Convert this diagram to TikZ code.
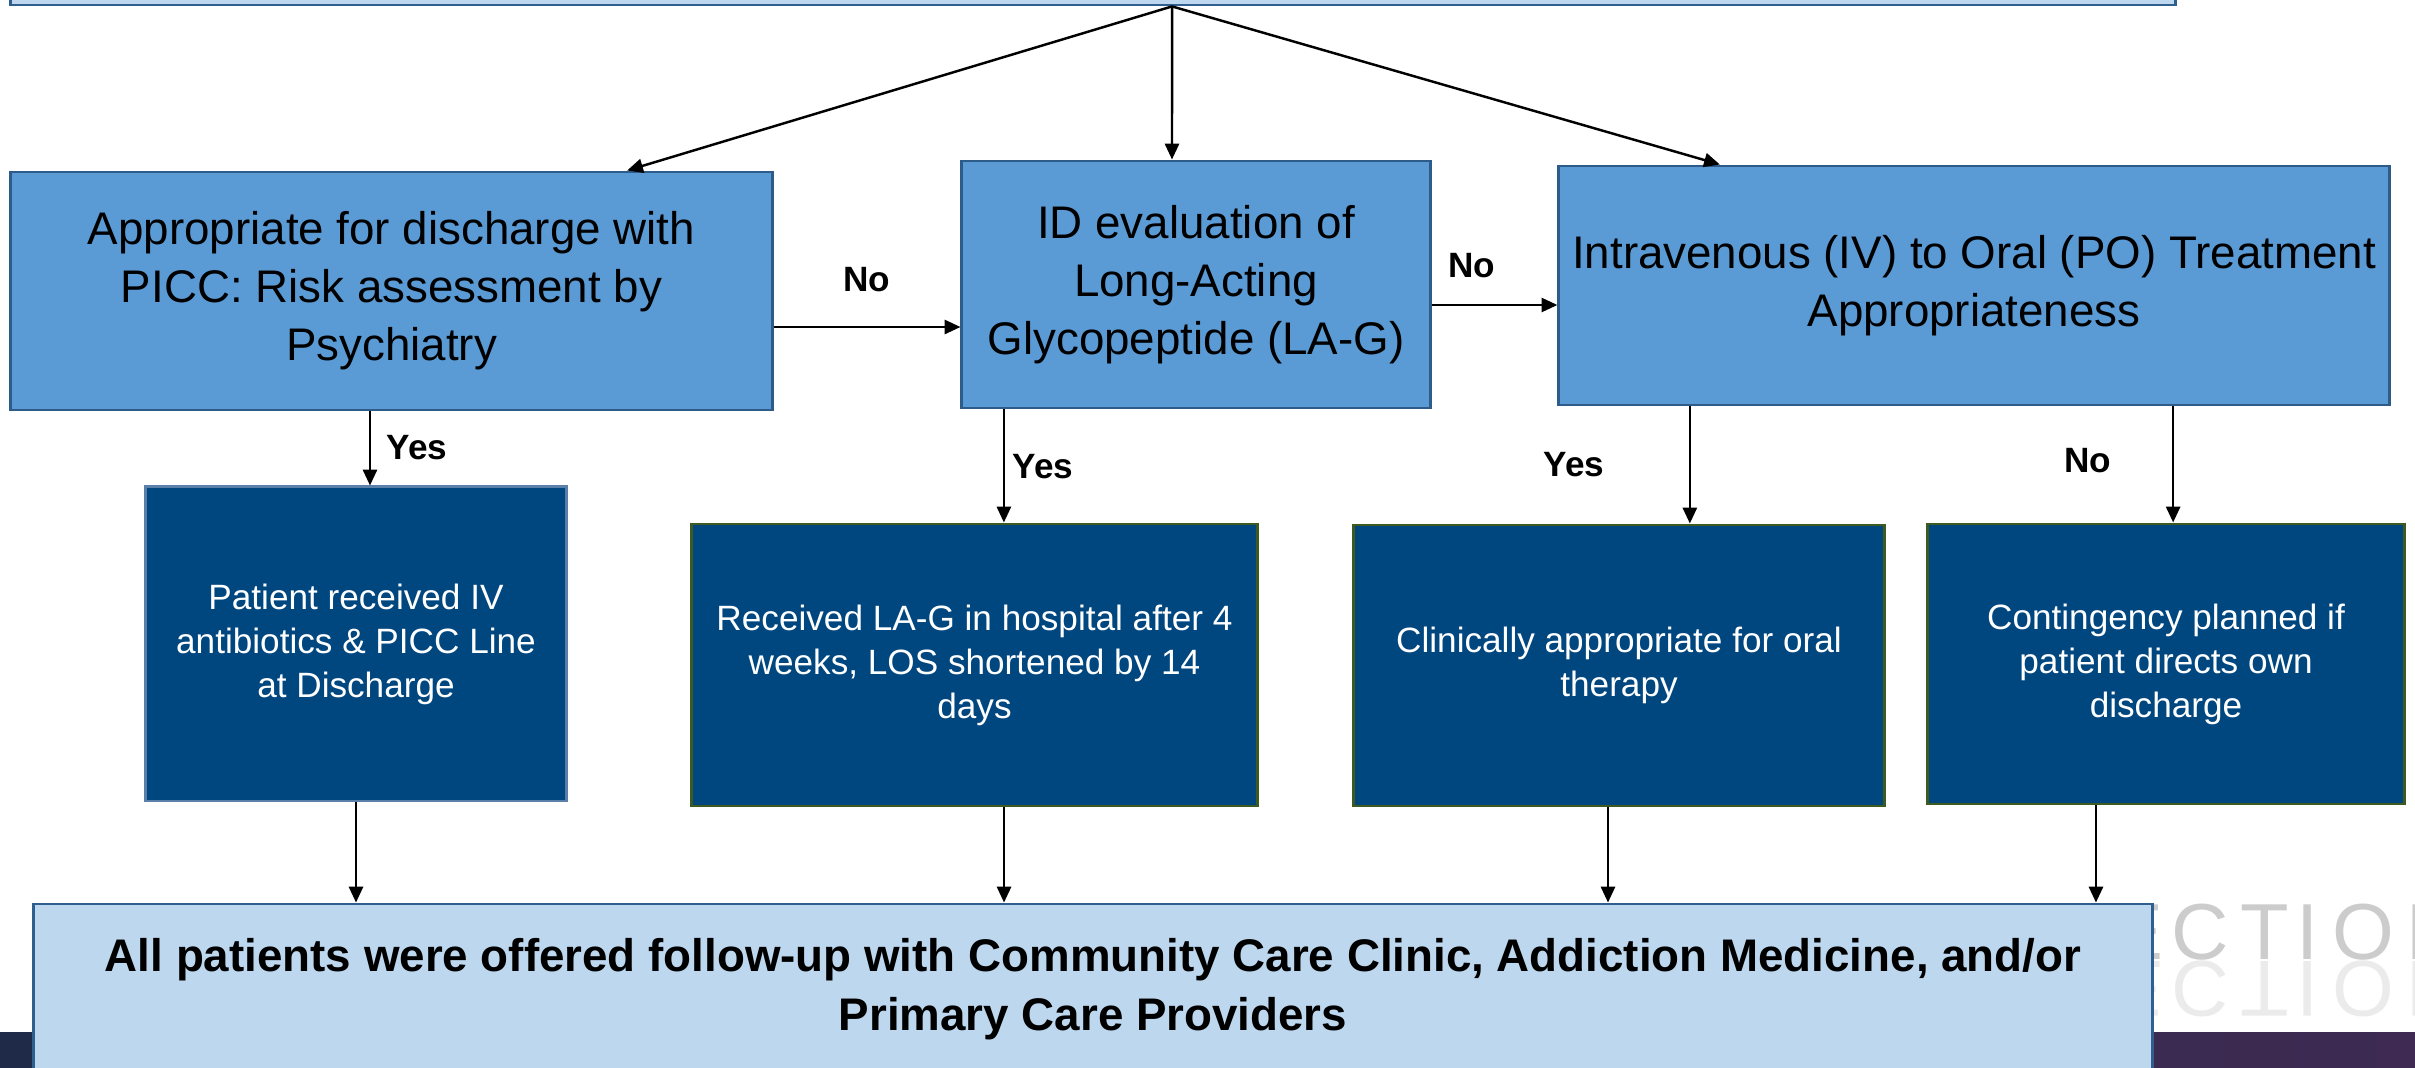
\documentclass[tikz,border=0pt]{standalone}
\usepackage{fontspec}
\setmainfont{Liberation Sans}
\usepackage{tikz}
\usetikzlibrary{arrows.meta}
\definecolor{midblue}{HTML}{5B9BD5}
\definecolor{midline}{HTML}{2E5C8A}
\definecolor{navybox}{HTML}{00467F}
\definecolor{oliveline}{HTML}{3D5A22}
\definecolor{steelline}{HTML}{5A7FA8}
\definecolor{paleblue}{HTML}{BDD7EE}
\definecolor{paleline}{HTML}{2E5F8F}
\definecolor{bandnavy}{HTML}{1F2A48}
\definecolor{bandred}{HTML}{6B2A48}
\definecolor{bandplum}{HTML}{3E2A52}

\begin{document}
\begin{tikzpicture}[x=0.01cm,y=-0.01cm,
  midbox/.style={draw=midline, fill=midblue, line width=0.8pt, align=center, inner sep=2pt, font=\fontsize{13}{16.5}\selectfont, execute at begin node={\rule{0pt}{12.3pt}}},
  darkbox/.style={draw=oliveline, fill=navybox, line width=0.8pt, text=white, align=center, inner sep=2pt, font=\fontsize{10}{12.5}\selectfont},
  palebox/.style={draw=paleline, fill=paleblue, line width=0.8pt, align=center, inner sep=2pt, font=\bfseries\fontsize{13}{16.6}\selectfont},
  lbl/.style={font=\bfseries\fontsize{10}{12}\selectfont},
  ghost/.style={anchor=base, inner sep=0pt, font=\fontsize{22.6}{24}\selectfont},
  arr/.style={-{Triangle[length=4.5pt,width=4pt]}, line width=0.7pt}]

\clip (0,0) rectangle (2415,1068);

% slide background
\fill[left color=bandnavy, middle color=bandred, right color=bandplum] (0,1033) rectangle (2415,1068);
\foreach \ch/\x in {E/2137,C/2200,T/2265,I/2308,O/2363,N/2435} {
\node[ghost, text=black!20] at (\x,960) {\ch};
\node[ghost, text=black!8] at (\x,962) {\scalebox{1}[-1]{\ch}};
}

% boxes
\node[palebox, minimum width=21.64cm, minimum height=1.2cm] (top) at (1093,-55) {};
\node[midbox, minimum width=7.61cm, minimum height=2.38cm] (a) at (391.5,291) {Appropriate for discharge with\\PICC: Risk assessment by\\Psychiatry};
\node[midbox, minimum width=4.68cm, minimum height=2.47cm] (b) at (1196,284.5) {ID evaluation of\\Long-Acting\\Glycopeptide (LA-G)};
\node[midbox, minimum width=8.30cm, minimum height=2.39cm] (c) at (1974,285.5) {Intravenous (IV) to Oral (PO) Treatment\\Appropriateness};
\node[darkbox, draw=steelline, minimum width=4.20cm, minimum height=3.14cm] (d) at (356,644) {Patient received IV\\antibiotics \& PICC Line\\at Discharge};
\node[darkbox, minimum width=5.65cm, minimum height=2.82cm] (e) at (974.5,665) {Received LA-G in hospital after 4\\weeks, LOS shortened by 14\\days};
\node[darkbox, minimum width=5.30cm, minimum height=2.81cm] (f) at (1619,665.5) {Clinically appropriate for oral\\therapy};
\node[darkbox, minimum width=4.76cm, minimum height=2.80cm] (g) at (2166,664) {Contingency planned if\\patient directs own\\discharge};
\node[palebox, minimum width=21.18cm, minimum height=1.70cm] (h) at (1093,989) {All patients were offered follow-up with Community Care Clinic, Addiction Medicine, and/or\\Primary Care Providers};

% connectors
\draw[arr] ([xshift=0.79cm]top.south) -- ([xshift=2.355cm]a.north);
\draw[arr] ([xshift=0.79cm]top.south) -- ([xshift=-0.24cm]b.north);
\draw[arr] ([xshift=0.79cm]top.south) -- ([xshift=-2.54cm]c.north);
\draw[arr] ([yshift=-0.36cm]a.east) -- ([yshift=-0.36cm]a.east -| b.west);
\draw[arr] ([yshift=-0.205cm]b.east) -- ([yshift=-0.205cm]b.east -| c.west);
\draw[arr] ([xshift=-0.215cm]a.south) -- ([xshift=-0.215cm]a.south |- d.north);
\draw[arr] ([xshift=-1.92cm]b.south) -- ([xshift=-1.92cm]b.south |- e.north);
\draw[arr] ([xshift=-2.84cm]c.south) -- ([xshift=-2.84cm]c.south |- f.north);
\draw[arr] ([xshift=1.99cm]c.south) -- ([xshift=1.99cm]c.south |- g.north);
\foreach \n/\s in {d/0,e/0.295,f/-0.11,g/-0.70} {
\draw[arr] ([xshift=\s cm]\n.south) -- ([xshift=\s cm]\n.south |- h.north);
}

% labels
\node[lbl] (noab) at (867,280) {No};
\node[lbl] (nobc) at (1472,266) {No};
\node[lbl] (yesad) at (417,448) {Yes};
\node[lbl] (yesbe) at (1043,467) {Yes};
\node[lbl] (yescf) at (1574,465) {Yes};
\node[lbl] (nocg) at (2088,461) {No};

\end{tikzpicture}
\end{document}
